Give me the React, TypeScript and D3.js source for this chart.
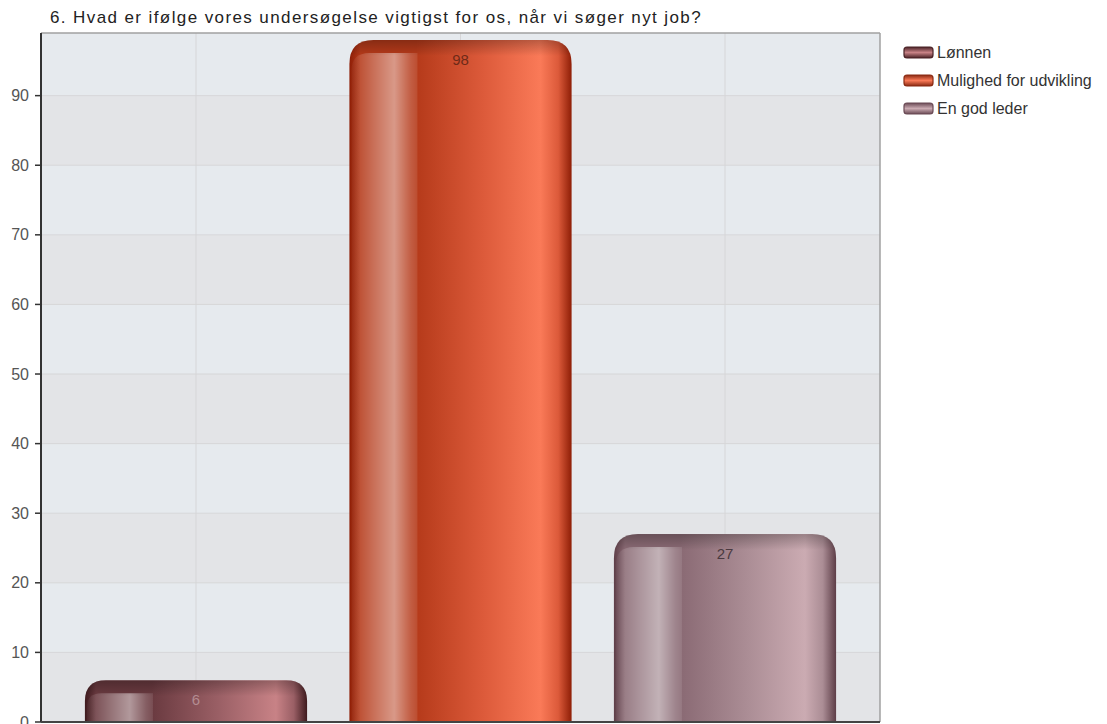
import React from "react";
import * as d3 from "d3";

const title = "6. Hvad er ifølge vores undersøgelse vigtigst for os, når vi søger nyt job?";
const categories = ["Lønnen", "Mulighed for udvikling", "En god leder"];
const values = [6, 98, 27];
const yTicks = [0, 10, 20, 30, 40, 50, 60, 70, 80, 90];

const palette = [
  { edge: "#3e1a1e", dark: "#6a3a40", mid: "#9a5f65", light: "#c88286", label: "#b38c91", stroke: "#4a2226" },
  { edge: "#8e1e06", dark: "#b53a1a", mid: "#dc5a3a", light: "#fa7a58", label: "#6e2a18", stroke: "#8a2a12" },
  { edge: "#5e3e48", dark: "#8a6a74", mid: "#ab8d95", light: "#cbabb2", label: "#4a3a40", stroke: "#6a4a55" },
];

const W = 1107;
const H = 724;
const left = 41;
const right = 880;
const top = 33;
const bottom = 722;

export default function App() {
  const x = d3
    .scaleBand<string>()
    .domain(categories)
    .range([left, right])
    .paddingInner(0.16)
    .paddingOuter(0.166);
  const y = d3.scaleLinear().domain([0, 99]).range([bottom, top]);
  const bw = x.bandwidth();
  const font = "'Liberation Sans', Arial, Helvetica, sans-serif";

  const bands = yTicks.map((t, i) => {
    const y0 = y(t);
    const y1 = i + 1 < yTicks.length ? y(yTicks[i + 1]) : top;
    return { y0, y1, light: i % 2 === 1 };
  });

  const barPath = (x0: number, t: number, w: number, b: number) => {
    const h = b - t;
    const r = Math.min(24, h / 2);
    return `M${x0},${b} L${x0},${t + r} Q${x0},${t} ${x0 + r},${t} L${x0 + w - r},${t} Q${x0 + w},${t} ${x0 + w},${t + r} L${x0 + w},${b} Z`;
  };
  const hlPath = (x0: number, t: number, w: number, b: number) => {
    const r = Math.min(18, (b - t) / 2);
    return `M${x0},${b} L${x0},${t + r} Q${x0},${t} ${x0 + r},${t} L${x0 + w},${t} L${x0 + w},${b} Z`;
  };

  return (
    <svg
      width={W}
      height={H}
      style={{ position: "absolute", left: 0, top: 0, background: "#fff" }}
      fontFamily={font}
    >
      <defs>
        {palette.map((p, i) => (
          <linearGradient key={"g" + i} id={"bar" + i} x1="0" x2="1" y1="0" y2="0">
            <stop offset="0" stopColor={p.edge} />
            <stop offset="0.05" stopColor={p.dark} />
            <stop offset="0.3" stopColor={p.dark} />
            <stop offset="0.6" stopColor={p.mid} />
            <stop offset="0.86" stopColor={p.light} />
            <stop offset="0.94" stopColor={p.mid} />
            <stop offset="1" stopColor={p.edge} />
          </linearGradient>
        ))}
        {palette.map((p, i) => (
          <linearGradient key={"lg" + i} id={"leg" + i} x1="0" x2="0" y1="0" y2="1">
            <stop offset="0" stopColor={p.stroke} />
            <stop offset="0.5" stopColor={p.light} />
            <stop offset="1" stopColor={p.stroke} />
          </linearGradient>
        ))}
        <linearGradient id="hl" x1="0" x2="1" y1="0" y2="0">
          <stop offset="0" stopColor="#fff" stopOpacity="0.03" />
          <stop offset="0.35" stopColor="#fff" stopOpacity="0.28" />
          <stop offset="0.65" stopColor="#fff" stopOpacity="0.48" />
          <stop offset="0.9" stopColor="#fff" stopOpacity="0.18" />
          <stop offset="1" stopColor="#fff" stopOpacity="0.1" />
        </linearGradient>
        <linearGradient id="topshade" x1="0" x2="0" y1="0" y2="1">
          <stop offset="0" stopColor="#000" stopOpacity="0.25" />
          <stop offset="1" stopColor="#000" stopOpacity="0" />
        </linearGradient>
        {values.map((v, i) => {
          const x0 = x(categories[i])!;
          return (
            <clipPath key={"c" + i} id={"clip" + i}>
              <path d={barPath(x0, y(v), bw, bottom)} />
            </clipPath>
          );
        })}
      </defs>

      <text x={50} y={23} fontSize={17} letterSpacing={1.4} fill="#222">
        {title}
      </text>

      {bands.map((b, i) => (
        <rect
          key={"band" + i}
          x={left}
          y={b.y1}
          width={right - left}
          height={b.y0 - b.y1}
          fill={b.light ? "#e6eaee" : "#e3e4e7"}
        />
      ))}
      {yTicks.slice(1).map((t) => (
        <line key={"hg" + t} x1={left} x2={right} y1={y(t)} y2={y(t)} stroke="#d6d6d8" strokeWidth={1} />
      ))}
      {categories.map((c) => (
        <line
          key={"vg" + c}
          x1={x(c)! + bw / 2}
          x2={x(c)! + bw / 2}
          y1={top}
          y2={bottom}
          stroke="#d6d6d8"
          strokeWidth={1}
        />
      ))}
      <line x1={left} x2={right} y1={top} y2={top} stroke="#a0a0a0" strokeWidth={1.5} />
      <line x1={right} x2={right} y1={top} y2={bottom} stroke="#a0a0a0" strokeWidth={1.5} />

      {values.map((v, i) => {
        const x0 = x(categories[i])!;
        const t = y(v);
        return (
          <g key={"bar" + i}>
            <path d={barPath(x0, t, bw, bottom)} fill={`url(#bar${i})`} />
            <g clipPath={`url(#clip${i})`}>
              <path d={hlPath(x0 + 2, t + 13, 66, bottom)} fill="url(#hl)" />
              <rect x={x0} y={t} width={bw} height={16} fill="url(#topshade)" />
            </g>
            <text
              x={x0 + bw / 2}
              y={t + 25}
              textAnchor="middle"
              fontSize={15}
              fill={palette[i].label}
            >
              {v}
            </text>
          </g>
        );
      })}

      <line x1={left} x2={left} y1={top} y2={bottom} stroke="#333" strokeWidth={2} />
      <line x1={left} x2={right} y1={bottom} y2={bottom} stroke="#444" strokeWidth={2} />
      {yTicks.map((t) => (
        <g key={"yt" + t}>
          <line x1={35} x2={left} y1={y(t)} y2={y(t)} stroke="#333" strokeWidth={1.5} />
          <text x={29} y={y(t) + 5.5} textAnchor="end" fontSize={16} fill="#555">
            {t}
          </text>
        </g>
      ))}

      {categories.map((c, i) => {
        const cy = 52.5 + i * 28;
        return (
          <g key={"leg" + i}>
            <rect
              x={904}
              y={cy - 5.5}
              width={29}
              height={11}
              rx={3}
              fill={`url(#leg${i})`}
              stroke={palette[i].stroke}
              strokeWidth={1.2}
            />
            <text x={937} y={cy + 5.5} fontSize={16} fill="#333">
              {c}
            </text>
          </g>
        );
      })}
    </svg>
  );
}
